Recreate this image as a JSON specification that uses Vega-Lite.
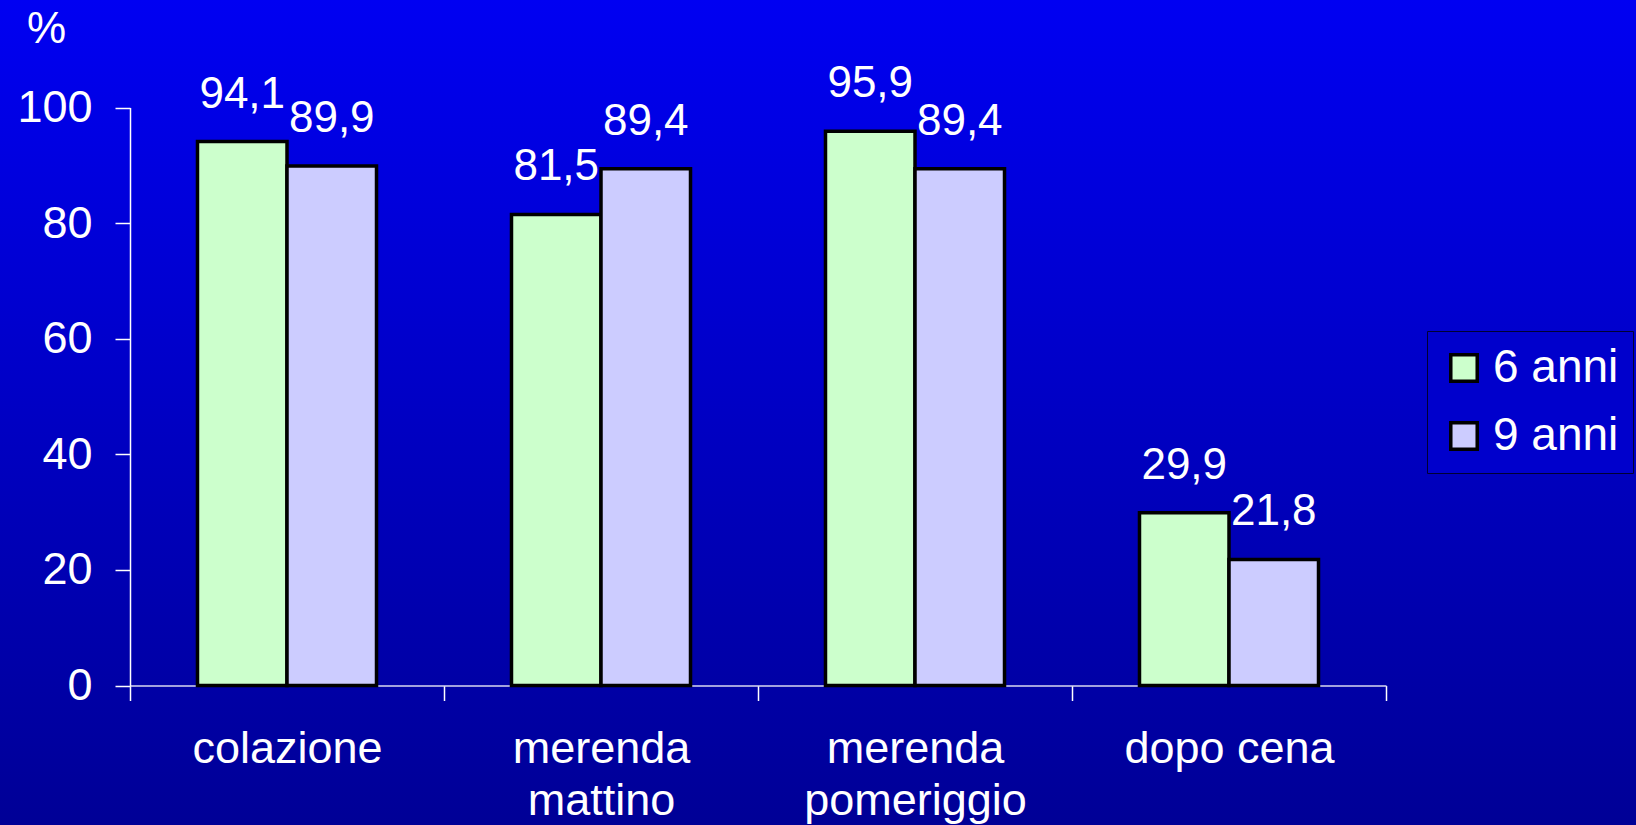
{
  "$schema": "https://vega.github.io/schema/vega-lite/v6.json",
  "width": 1636,
  "height": 825,
  "padding": 0,
  "autosize": {"type": "none"},
  "background": "#0000C4",
  "view": {
    "fill": {"gradient": "linear", "x1": 0, "y1": 0, "x2": 0, "y2": 1,
      "stops": [{"offset": 0, "color": "#0000F2"}, {"offset": 1, "color": "#000096"}]},
    "stroke": null
  },
  "config": {
    "font": "Liberation Sans",
    "locale": {"number": {"decimal": ",", "thousands": ".", "grouping": [3], "currency": ["", " €"]}}
  },
  "data": {
    "values": [
      {"pasto": "colazione", "eta": "6 anni", "pct": 94.1},
      {"pasto": "colazione", "eta": "9 anni", "pct": 89.9},
      {"pasto": "merenda mattino", "eta": "6 anni", "pct": 81.5},
      {"pasto": "merenda mattino", "eta": "9 anni", "pct": 89.4},
      {"pasto": "merenda pomeriggio", "eta": "6 anni", "pct": 95.9},
      {"pasto": "merenda pomeriggio", "eta": "9 anni", "pct": 89.4},
      {"pasto": "dopo cena", "eta": "6 anni", "pct": 29.9},
      {"pasto": "dopo cena", "eta": "9 anni", "pct": 21.8}
    ]
  },
  "encoding": {
    "x": {
      "field": "pasto", "type": "nominal", "sort": null,
      "scale": {"range": [130, 1386], "paddingInner": 0, "paddingOuter": 0},
      "axis": {
        "title": null, "offset": -139.5, "tickBand": "extent", "tickSize": 15,
        "labelPadding": 26, "labelFontSize": 45, "labelColor": "white", "labelAngle": 0,
        "labelLineHeight": 52, "labelOverlap": false, "labelLimit": 0,
        "labelExpr": "indexof(datum.label, 'merenda') == 0 ? split(datum.label, ' ') : datum.label",
        "domainColor": "#D8D8F0", "tickColor": "white", "domainWidth": 1.5, "tickWidth": 1.5
      }
    },
    "xOffset": {"field": "eta", "type": "nominal", "scale": {"paddingInner": 0, "paddingOuter": 0.754}},
    "y": {
      "field": "pct", "type": "quantitative",
      "scale": {"domain": [0, 100], "range": [685.5, 107.5], "nice": false, "zero": true},
      "axis": {
        "title": "%", "titleAngle": 0, "titleFontSize": 44, "titleColor": "white", "titleFontWeight": "normal",
        "titleX": -84, "titleY": 29, "titleAlign": "center", "titleBaseline": "middle",
        "offset": -130, "values": [0, 20, 40, 60, 80, 100], "tickSize": 15, "labelPadding": 23,
        "labelFontSize": 45, "labelColor": "white", "domainColor": "white", "tickColor": "white",
        "grid": false, "domainWidth": 1.5, "tickWidth": 1.5
      }
    }
  },
  "layer": [
    {
      "mark": {"type": "bar", "stroke": "black", "strokeWidth": 3.5},
      "encoding": {
        "fill": {
          "field": "eta", "type": "nominal",
          "scale": {"range": ["#CCFFCC", "#CCCCFF"]},
          "legend": {
            "title": null, "orient": "none", "legendX": 1427, "legendY": 331, "direction": "vertical",
            "labelFontSize": 46, "labelColor": "white", "symbolType": "square", "symbolSize": 700,
            "symbolStrokeColor": "black", "symbolStrokeWidth": 3.5, "symbolOpacity": 1,
            "strokeColor": "#000033", "fillColor": "#0000CC", "padding": 14, "rowPadding": 22, "labelOffset": 6
          }
        }
      }
    },
    {
      "mark": {"type": "text", "dy": -34, "baseline": "alphabetic", "fontSize": 44, "color": "white"},
      "encoding": {"text": {"field": "pct", "type": "quantitative", "format": ".1f"}}
    }
  ]
}
